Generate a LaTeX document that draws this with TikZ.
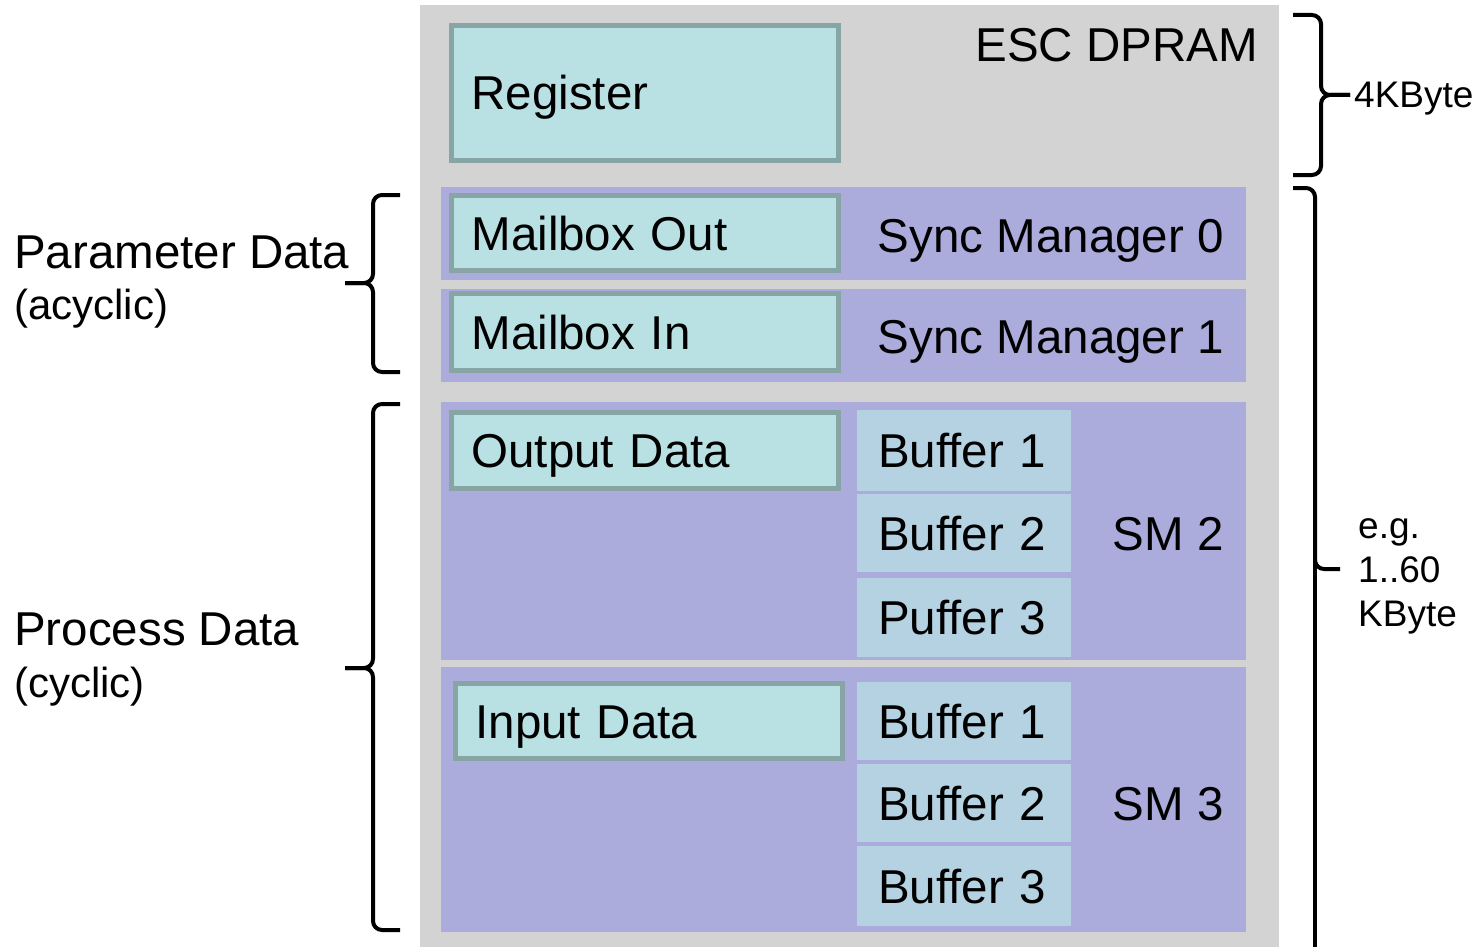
\documentclass[tikz,border=0pt]{standalone}
\usepackage{fontspec}
\setmainfont{Liberation Sans}
\definecolor{dpramgray}{HTML}{D3D3D3}
\definecolor{smpurple}{HTML}{ABABDC}
\definecolor{areafill}{HTML}{B9E0E3}
\definecolor{areaedge}{HTML}{88A5A5}
\definecolor{buffill}{HTML}{B5D2E2}
\tikzset{
  big/.style={font=\fontsize{47.5}{54}\selectfont, text height=34pt, text depth=0pt},
  side/.style={font=\fontsize{42}{48}\selectfont, text height=30pt, text depth=0pt, inner sep=0pt},
  note/.style={font=\fontsize{37}{44}\selectfont, inner sep=0pt},
  area/.style={big, draw=areaedge, line width=5pt, fill=areafill, anchor=north west,
    inner xsep=20pt, inner ysep=0pt, align=left, minimum width=387pt, text width=347pt},
  band/.style={fill=smpurple, draw=none, anchor=north west, inner sep=0pt},
  bufbox/.style={big, fill=buffill, draw=none, anchor=north west, inner xsep=21pt,
    inner ysep=0pt, minimum width=214pt, text width=172pt, align=left},
  brace/.style={line width=4pt, rounded corners=9pt}
}
\begin{document}
\begin{tikzpicture}[x=1pt,y=-1pt]
\useasboundingbox (0,0) rectangle (1479,947);

% DPRAM background
\node[fill=dpramgray, anchor=north west, inner sep=0pt, minimum width=859pt, minimum height=942pt] (dpram) at (420,5) {};
\node[big, anchor=east, inner sep=0pt] (dpramlabel) at (1258,45) {ESC DPRAM};

% register area
\node[area, minimum height=135pt] (reg) at (449,23) {Register};

% sync manager bands
\node[band, minimum width=805pt, minimum height=93pt] (sm0) at (441,187) {};
\node[band, minimum width=805pt, minimum height=93pt] (sm1) at (441,289) {};
\node[band, minimum width=805pt, minimum height=258pt] (sm2) at (441,402) {};
\node[band, minimum width=805pt, minimum height=265pt] (sm3) at (441,667) {};

% mailboxes
\node[area, minimum height=75pt] (mbout) at (449,193) {Mailbox Out};
\node[area, minimum height=77pt] (mbin) at (449,291) {Mailbox In};
\node[big, anchor=east, inner sep=0pt] (sm0label) at (1224,235) {Sync Manager 0};
\node[big, anchor=east, inner sep=0pt] (sm1label) at (1224,336) {Sync Manager 1};

% process data areas
\node[area, minimum height=76pt] (outdata) at (449,410) {Output Data};
\node[area, minimum height=75pt] (indata) at (453,681) {Input Data};

% SM2 buffers
\node[bufbox, minimum height=81pt] (ob1) at (857,410) {Buffer 1};
\node[bufbox, minimum height=78pt] (ob2) at (857,494) {Buffer 2};
\node[bufbox, minimum height=79pt] (ob3) at (857,578) {Puffer 3};
\node[big, anchor=east, inner sep=0pt] (sm2label) at (1224,533) {SM 2};

% SM3 buffers
\node[bufbox, minimum height=78pt] (ib1) at (857,682) {Buffer 1};
\node[bufbox, minimum height=78pt] (ib2) at (857,764) {Buffer 2};
\node[bufbox, minimum height=80pt] (ib3) at (857,846) {Buffer 3};
\node[big, anchor=east, inner sep=0pt] (sm3label) at (1224,803) {SM 3};

% left labels
\node[side, font=\fontsize{47.5}{54}\selectfont, text height=34pt, anchor=west] (param) at (14,251) {Parameter Data};
\node[side, anchor=west] (acyc) at (14,304) {(acyclic)};
\node[side, font=\fontsize{47.5}{54}\selectfont, text height=34pt, anchor=west] (proc) at (14,628) {Process Data};
\node[side, anchor=west] (cyc) at (14,682) {(cyclic)};

% left braces
\draw[brace] (400,195) -- (373,195) -- (373,283) -- (345,283);
\draw[brace] (400,372) -- (373,372) -- (373,283) -- (345,283);
\draw[brace] (400,404) -- (373,404) -- (373,668) -- (345,668);
\draw[brace] (400,930) -- (373,930) -- (373,668) -- (345,668);

% right braces
\draw[brace] (1293,15) -- (1321,15) -- (1321,95) -- (1350,95);
\draw[brace] (1293,175) -- (1321,175) -- (1321,95) -- (1350,95);
\draw[brace] (1293,188) -- (1315,188) -- (1315,569) -- (1340,569);
\draw[line width=4pt] (1315,560) -- (1315,947);

% size notes
\node[note, anchor=west] (kb4) at (1354,99) {4KByte};
\node[note, anchor=west, align=left] (kb60) at (1358,576) {e.g.\\1..60\\KByte};
\end{tikzpicture}
\end{document}
